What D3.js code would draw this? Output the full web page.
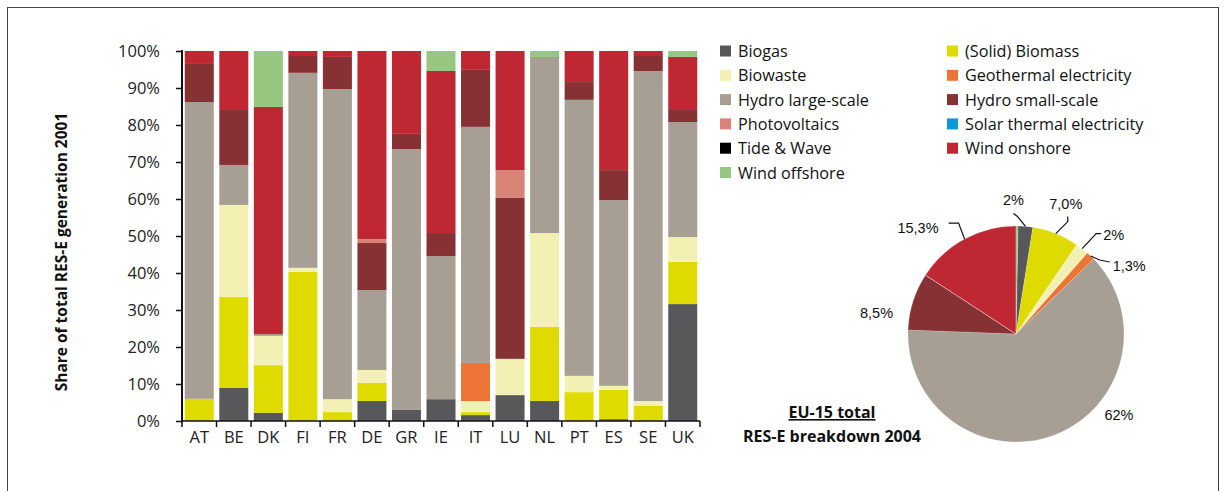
<!DOCTYPE html>
<html>
<head>
<meta charset="utf-8">
<script src="https://cdn.jsdelivr.net/npm/d3@7"></script>
<style>
  body { margin: 0; background: #fff; }
  svg { display: block; font-family: "Open Sans", Lato, sans-serif; }
</style>
</head>
<body>
<svg id="chart" width="1227" height="491"></svg>
<script>
// categories and series
const countries = ['AT', 'BE', 'DK', 'FI', 'FR', 'DE', 'GR', 'IE', 'IT', 'LU', 'NL', 'PT', 'ES', 'SE', 'UK'];
const seriesNames = ['Biogas', '(Solid) Biomass', 'Biowaste', 'Geothermal electricity', 'Hydro large-scale',
  'Hydro small-scale', 'Photovoltaics', 'Solar thermal electricity', 'Tide & Wave', 'Wind onshore', 'Wind offshore'];
const seriesColors = ['#58585a', '#dfdb00', '#f3f0b3', '#ec7535', '#a79f94',
  '#863134', '#d98276', '#0a9ad9', '#000000', '#bf2833', '#97c680'];

// share of RES-E generation 2001, % (one value per country)
const biogas       = [0, 9, 2.2, 0, 0, 5.4, 3, 5.9, 1.6, 7, 5.4, 0, 0.5, 0, 31.6];
const solidBiomass = [6, 24.5, 12.9, 40.3, 2.4, 4.9, 0, 0, 0.8, 0, 20.0, 7.8, 7.9, 4.1, 11.4];
const biowaste     = [0, 24.9, 7.9, 1.1, 3.5, 3.5, 0, 0, 3.0, 9.8, 25.4, 4.4, 1.1, 1.3, 6.7];
const geothermal   = [0, 0, 0, 0, 0, 0, 0, 0, 10.3, 0, 0, 0, 0, 0, 0];
const hydroLarge   = [80.2, 10.8, 0.5, 52.7, 83.8, 21.6, 70.5, 38.7, 63.8, 0, 47.3, 74.6, 50.2, 89.2, 31.1];
const hydroSmall   = [10.3, 15.1, 0, 4.8, 8.7, 12.7, 4.1, 6.2, 15.4, 43.5, 0, 4.8, 8.1, 4.3, 3.5];
const photovoltaic = [0, 0, 0, 0, 0, 1.1, 0, 0, 0, 7.5, 0.3, 0, 0, 0, 0];
const solarThermal = [0, 0, 0, 0, 0, 0, 0, 0, 0, 0, 0, 0, 0, 0, 0];
const tideWave     = [0, 0, 0, 0, 0, 0, 0, 0, 0, 0, 0, 0, 0, 0, 0];
const windOnshore  = [3.5, 15.7, 61.4, 1.1, 1.6, 50.8, 22.4, 43.8, 5.1, 32.2, 0, 8.4, 32.2, 1.1, 14.1];
const windOffshore = [0, 0, 15.1, 0, 0, 0, 0, 5.4, 0, 0, 1.6, 0, 0, 0, 1.6];

const seriesValues = [biogas, solidBiomass, biowaste, geothermal, hydroLarge, hydroSmall,
  photovoltaic, solarThermal, tideWave, windOnshore, windOffshore];

const yTicks = [0, 10, 20, 30, 40, 50, 60, 70, 80, 90, 100];

// EU-15 total RES-E breakdown 2004 (series order)
const pieValues = [2.2, 7.0, 2.0, 1.3, 62.8, 8.6, 0, 0, 0, 15.8, 0.3];
const pieLabels = ['2%', '7,0%', '2%', '1,3%', '62%', '8,5%', '', '', '', '15,3%', ''];

const svg = d3.select('#chart');

// frame
svg.append('rect')
  .attr('x', 7.5).attr('y', 7.5).attr('width', 1211).attr('height', 495)
  .attr('fill', 'none').attr('stroke', '#444').attr('stroke-width', 1);

// ---- stacked bars ----
const table = countries.map((c, i) => {
  const row = { country: c };
  seriesNames.forEach((s, j) => { row[s] = seriesValues[j][i]; });
  return row;
});

const stack = d3.stack().keys(seriesNames)(table);

const x = d3.scaleBand().domain(countries).range([182, 700]).paddingInner(0.16).paddingOuter(0.08);
const y = d3.scaleLinear().domain([0, 100]).range([421, 51]);
const color = d3.scaleOrdinal().domain(seriesNames).range(seriesColors);

svg.append('g')
  .selectAll('g')
  .data(stack)
  .join('g')
  .attr('fill', d => color(d.key))
  .selectAll('rect')
  .data(d => d)
  .join('rect')
  .attr('x', d => x(d.data.country))
  .attr('width', x.bandwidth())
  .attr('y', d => y(d[1]))
  .attr('height', d => Math.max(0, y(d[0]) - y(d[1])));

// y axis
const yAxis = svg.append('g')
  .attr('transform', 'translate(182,0)')
  .call(d3.axisLeft(y).tickValues(yTicks).tickFormat(d => d + '%').tickSize(6).tickSizeOuter(0).tickPadding(16));
yAxis.select('.domain').remove();
yAxis.selectAll('.tick line').attr('stroke', '#111').attr('stroke-width', 1.5);
yAxis.selectAll('.tick text').attr('fill', '#222').style('font-size', '16.5px').style('font-family', '"Open Sans", sans-serif');

svg.append('line')
  .attr('x1', 182).attr('x2', 182).attr('y1', y(100) - 1).attr('y2', y(0) + 1)
  .attr('stroke', '#111').attr('stroke-width', 2);

// x axis
const xAxis = svg.append('g')
  .attr('transform', `translate(0,${y(0)})`)
  .call(d3.axisBottom(x).tickSize(0).tickSizeOuter(0).tickPadding(10));
xAxis.select('.domain').remove();
xAxis.selectAll('.tick text').attr('fill', '#222').style('font-size', '16.5px').style('font-family', '"Open Sans", sans-serif');

svg.append('line')
  .attr('x1', x.range()[0]).attr('x2', x.range()[1]).attr('y1', y(0)).attr('y2', y(0))
  .attr('stroke', '#111').attr('stroke-width', 1.5);

const boundaries = d3.range(countries.length + 1).map(i => x.range()[0] + i * x.step());
svg.append('g')
  .selectAll('line')
  .data(boundaries)
  .join('line')
  .attr('x1', d => d).attr('x2', d => d)
  .attr('y1', y(0)).attr('y2', y(0) + 6)
  .attr('stroke', '#111').attr('stroke-width', 1.5);

// y axis title
svg.append('text')
  .attr('transform', 'translate(67,252) rotate(-90)')
  .attr('text-anchor', 'middle')
  .attr('fill', '#111')
  .style('font-size', '15.5px')
  .style('font-weight', 'bold')
  .text('Share of total RES-E generation 2001');

// ---- legend ----
const legend = svg.append('g');
const legendItems = legend.selectAll('g')
  .data(seriesNames)
  .join('g')
  .attr('transform', (d, i) => `translate(${i % 2 === 0 ? 720 : 947},${51 + Math.floor(i / 2) * 24.3})`);
legendItems.append('rect')
  .attr('x', 0).attr('y', -5.5).attr('width', 11).attr('height', 11)
  .attr('fill', d => color(d));
legendItems.append('text')
  .attr('x', 18).attr('y', 6)
  .attr('fill', '#111')
  .style('font-size', '16.2px')
  .text(d => d);

// ---- pie ----
const cx = 1016, cy = 334, r = 108;
const total = d3.sum(pieValues);
const offset = pieValues[pieValues.length - 1] / total * 2 * Math.PI;
const pie = d3.pie().sort(null).value(d => d).startAngle(offset).endAngle(offset + 2 * Math.PI);
const arcs = pie(pieValues);
const arc = d3.arc().innerRadius(0).outerRadius(r);

const pieG = svg.append('g').attr('transform', `translate(${cx},${cy})`);
pieG.selectAll('path')
  .data(arcs)
  .join('path')
  .attr('d', arc)
  .attr('fill', (d, i) => seriesColors[i])
  .attr('stroke', '#ffffff')
  .attr('stroke-opacity', 0.35)
  .attr('stroke-width', 0.5);

// label layout: leader offsets and text offset from the slice edge point
const labelLayout = {
  0: { leader: [[-8, -10], [-12, -13]], text: [-12, -21], anchor: 'middle' },
  1: { leader: [[12, -12], [12, -17]], text: [10, -25], anchor: 'middle' },
  2: { leader: [[14, -15], [19, -15]], text: [21, -9], anchor: 'start' },
  3: { leader: [[9, 4], [19, 6]], text: [22, 15], anchor: 'start' },
  4: { leader: null, text: [50, -15], anchor: 'start' },
  5: { leader: null, text: [-20, 17], anchor: 'end' },
  9: { leader: [[-6, -16], [-16, -16]], text: [-26, -6], anchor: 'end' }
};

arcs.forEach((a, i) => {
  const lay = labelLayout[i];
  if (!lay || !pieLabels[i]) return;
  const mid = (a.startAngle + a.endAngle) / 2;
  const px = Math.sin(mid) * r, py = -Math.cos(mid) * r;
  if (lay.leader) {
    const pts = [[px, py]].concat(lay.leader.map(p => [px + p[0], py + p[1]]));
    pieG.append('path')
      .attr('d', d3.line()(pts))
      .attr('fill', 'none')
      .attr('stroke', '#111')
      .attr('stroke-width', 1.2);
  }
  pieG.append('text')
    .attr('x', px + lay.text[0]).attr('y', py + lay.text[1])
    .attr('text-anchor', lay.anchor)
    .attr('fill', '#111')
    .style('font-family', '"Liberation Sans", Arial, sans-serif')
    .style('font-size', '14.5px')
    .text(pieLabels[i]);
});

// pie title
svg.append('text')
  .attr('x', 832).attr('y', 418)
  .attr('text-anchor', 'middle')
  .attr('fill', '#111')
  .style('font-size', '16px')
  .style('font-weight', 'bold')
  .style('text-decoration', 'underline')
  .text('EU-15 total');
svg.append('text')
  .attr('x', 832).attr('y', 442)
  .attr('text-anchor', 'middle')
  .attr('fill', '#111')
  .style('font-size', '16px')
  .style('font-weight', 'bold')
  .text('RES-E breakdown 2004');
</script>
</body>
</html>
